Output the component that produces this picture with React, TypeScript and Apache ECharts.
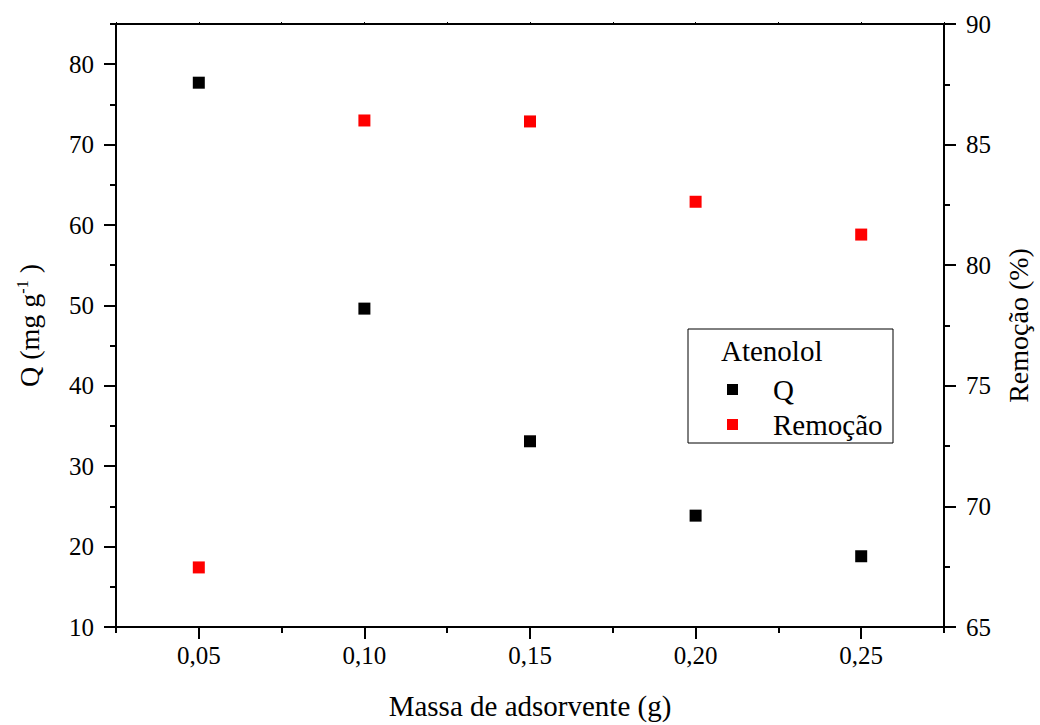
import React, { useEffect, useRef } from "react";
import * as echarts from "echarts";

const FONT = "'Times New Roman', 'Liberation Serif', serif";

const massas = [0.05, 0.1, 0.15, 0.2, 0.25];
const qValues = [77.7, 49.6, 33.1, 23.85, 18.8];
const remocaoValues = [67.47, 86.0, 85.96, 82.63, 81.27];
const xMajorTicks = [0.05, 0.1, 0.15, 0.2, 0.25];
const yLeftMajorTicks = [10, 20, 30, 40, 50, 60, 70, 80];
const legendTitle = "Atenolol";
const seriesNames = ["Q", "Remoção"];

export default function App() {
  const ref = useRef<HTMLDivElement>(null);
  useEffect(() => {
    if (!ref.current) return;
    const chart = echarts.init(ref.current, null, { renderer: "svg" });
    const axisLine = { show: true, lineStyle: { color: "#000", width: 2 } };
    const option: any = {
      animation: false,
      backgroundColor: "#fff",
      grid: { left: 116, right: 90, top: 24, bottom: 94, containLabel: false },
      xAxis: [
        {
          type: "value",
          position: "bottom",
          min: 0.025,
          max: 0.275,
          axisLine,
          splitLine: { show: false },
          axisTick: { show: true, length: 12, lineStyle: { width: 2, color: "#000" }, customValues: xMajorTicks },
          axisLabel: {
            customValues: xMajorTicks,
            formatter: (v: number) => v.toFixed(2).replace(".", ","),
            fontFamily: FONT,
            fontSize: 25,
            color: "#000",
            margin: 16,
          },
          name: "Massa de adsorvente (g)",
          nameLocation: "middle",
          nameGap: 64,
          nameTextStyle: { fontFamily: FONT, fontSize: 29, color: "#000" },
        },
        {
          type: "value",
          position: "bottom",
          min: 0.025,
          max: 0.275,
          interval: 0.025,
          axisLine: { show: false },
          splitLine: { show: false },
          axisTick: { show: true, length: 6, lineStyle: { width: 2, color: "#000" } },
          axisLabel: { show: false },
        },
        {
          type: "value",
          position: "top",
          min: 0.025,
          max: 0.275,
          interval: 0.025,
          axisLine,
          splitLine: { show: false },
          axisTick: { show: true, length: 2, lineStyle: { width: 1, color: "#000" } },
          axisLabel: { show: false },
        },
      ],
      yAxis: [
        {
          type: "value",
          position: "left",
          min: 10,
          max: 85,
          interval: 10,
          axisLine,
          splitLine: { show: false },
          axisTick: { show: true, length: 12, lineStyle: { width: 2, color: "#000" }, customValues: yLeftMajorTicks },
          axisLabel: {
            customValues: yLeftMajorTicks,
            fontFamily: FONT,
            fontSize: 25,
            color: "#000",
            margin: 22,
          },
          name: "Q (mg g{sup|-1} )",
          nameLocation: "middle",
          nameGap: 72,
          nameRotate: 90,
          nameTextStyle: {
            fontFamily: FONT,
            fontSize: 28,
            color: "#000",
            rich: {
              sup: { fontFamily: FONT, fontSize: 16, color: "#000", padding: [0, 0, 14, 0] },
            },
          },
        },
        {
          type: "value",
          position: "right",
          min: 65,
          max: 90,
          interval: 5,
          axisLine,
          splitLine: { show: false },
          axisTick: { show: true, length: 12, lineStyle: { width: 2, color: "#000" } },
          minorTick: { show: true, splitNumber: 2, length: 6, lineStyle: { width: 2, color: "#000" } },
          axisLabel: { fontFamily: FONT, fontSize: 25, color: "#000", margin: 22 },
          name: "Remoção (%)",
          nameLocation: "middle",
          nameGap: 60,
          nameRotate: 90,
          nameTextStyle: { fontFamily: FONT, fontSize: 28, color: "#000" },
        },
        {
          type: "value",
          position: "left",
          min: 10,
          max: 85,
          interval: 5,
          axisLine: { show: false },
          splitLine: { show: false },
          axisTick: { show: true, length: 6, lineStyle: { width: 2, color: "#000" } },
          axisLabel: { show: false },
        },
      ],
      legend: {
        orient: "vertical",
        left: 727,
        top: 375,
        padding: 0,
        itemWidth: 11,
        itemHeight: 11,
        itemGap: 6,
        icon: "rect",
        data: seriesNames,
        textStyle: { fontFamily: FONT, fontSize: 29, color: "#000", lineHeight: 28, padding: [0, 0, 0, 30] },
      },
      graphic: [
        {
          type: "rect",
          shape: { x: 688, y: 329, width: 205, height: 114 },
          style: { fill: "none", stroke: "#000", lineWidth: 1 },
          z: 10,
        },
        {
          type: "text",
          x: 721,
          y: 351,
          style: { text: legendTitle, font: `29px ${FONT}`, fill: "#000", textVerticalAlign: "middle" },
          z: 10,
        },
      ],
      series: [
        {
          name: seriesNames[0],
          type: "scatter",
          xAxisIndex: 0,
          yAxisIndex: 0,
          symbol: "rect",
          symbolSize: 12,
          itemStyle: { color: "#000", opacity: 1 },
          data: massas.map((m, i) => [m, qValues[i]]),
        },
        {
          name: seriesNames[1],
          type: "scatter",
          xAxisIndex: 0,
          yAxisIndex: 1,
          symbol: "rect",
          symbolSize: 12,
          itemStyle: { color: "#ff0000", opacity: 1 },
          data: massas.map((m, i) => [m, remocaoValues[i]]),
        },
      ],
    };
    chart.setOption(option);
    return () => chart.dispose();
  }, []);
  return <div ref={ref} style={{ position: "fixed", left: 0, top: 0, width: 1040, height: 725 }} />;
}
